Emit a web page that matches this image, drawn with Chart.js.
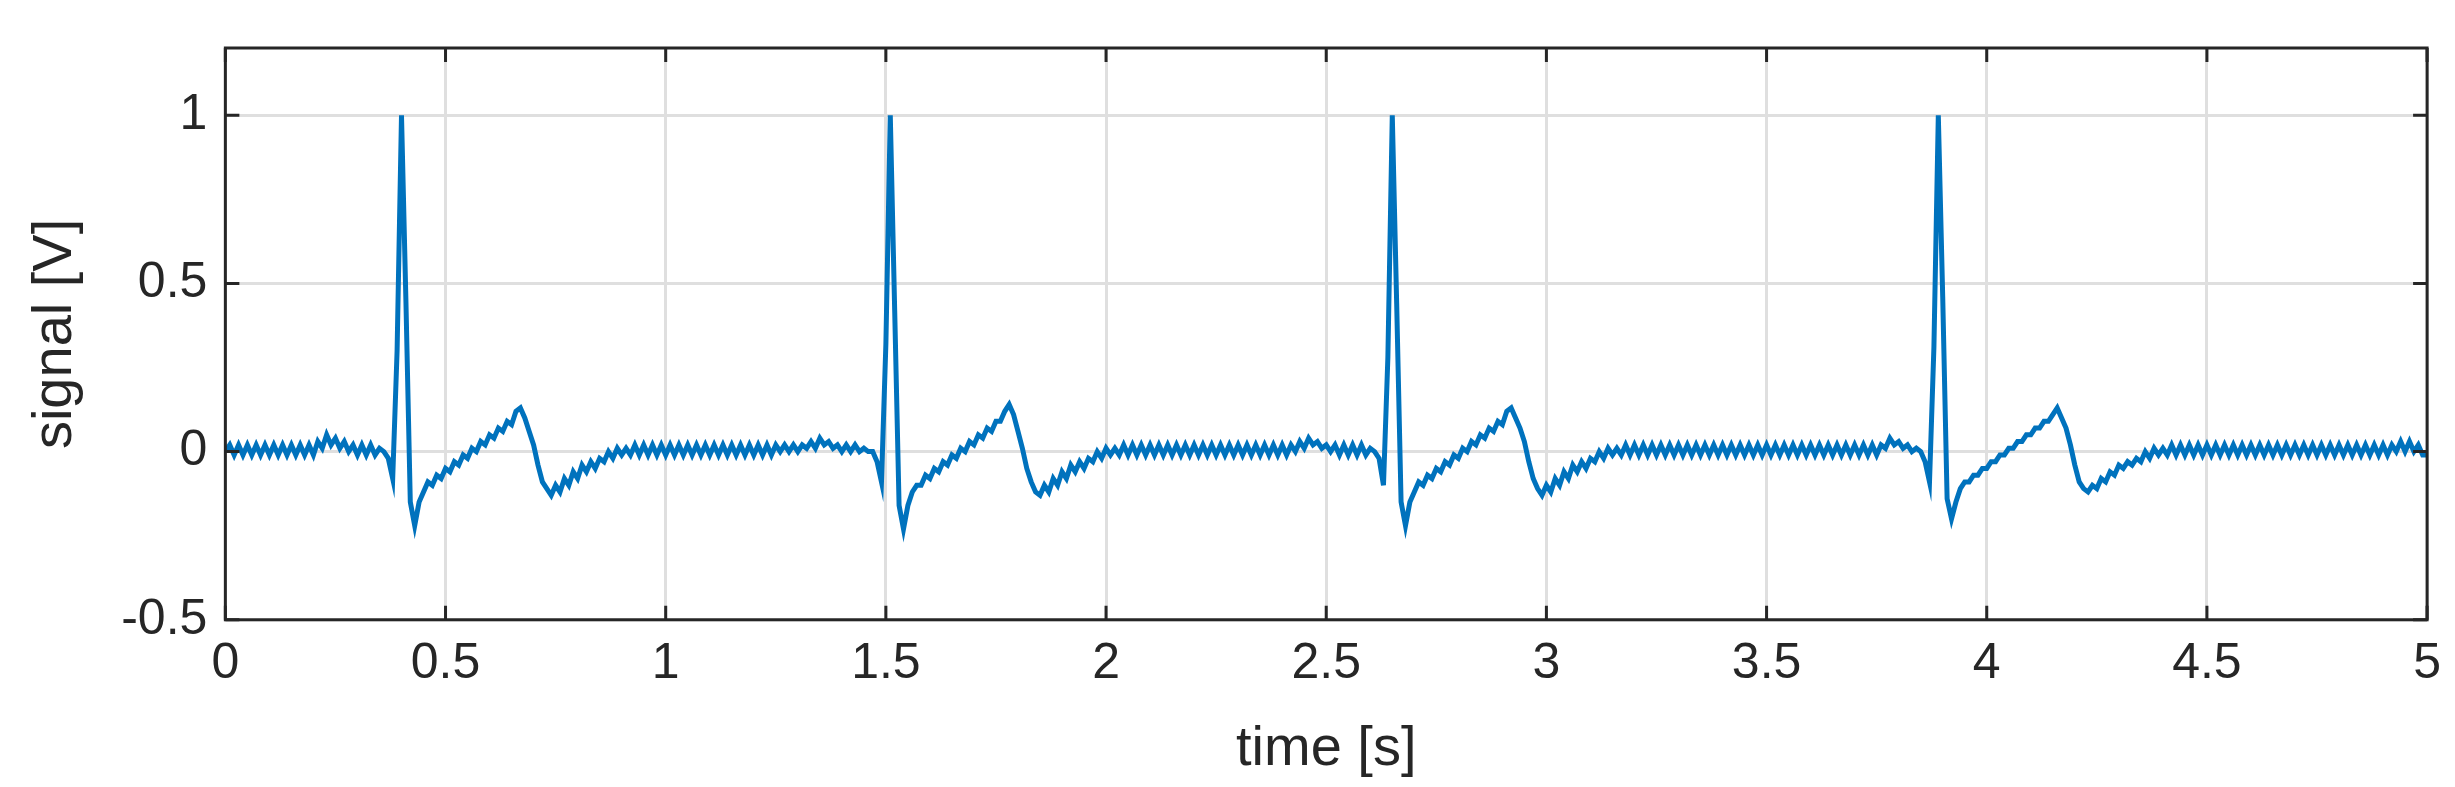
<!DOCTYPE html>
<html><head><meta charset="utf-8">
<script src="https://cdn.jsdelivr.net/npm/chart.js@4"></script>
<style>html,body{margin:0;padding:0;background:#fff;}canvas{display:block;}</style>
</head><body>
<canvas id="c" width="2455" height="787"></canvas>
<script>
const sampleStep = 0.01; // seconds between samples
const signalV = [
 0.00,0.02,-0.01,0.02,-0.01,0.02,-0.01,0.02,-0.01,0.02,
 -0.01,0.02,-0.01,0.02,-0.01,0.02,-0.01,0.02,-0.01,0.02,
 -0.01,0.03,0.01,0.05,0.02,0.04,0.01,0.03,0.00,0.02,
 -0.01,0.02,-0.01,0.02,-0.01,0.01,
 // beat 1
 0.00,-0.02,-0.08,0.30,1.00,0.45,-0.15,-0.22,-0.15,
 -0.12,-0.09,-0.10,-0.07,-0.08,-0.05,-0.06,-0.03,-0.04,-0.01,-0.02,0.01,0.00,0.03,0.02,0.05,0.04,0.07,0.06,0.09,0.08,0.12,0.13,
 0.10,0.06,0.02,-0.04,-0.09,-0.11,-0.13,-0.10,
 -0.12,-0.08,-0.10,-0.06,-0.08,-0.04,-0.06,-0.03,-0.05,-0.02,-0.03,0.00,-0.02,0.01,-0.01,0.01,-0.01,0.02,-0.01,0.02,-0.01,0.02,-0.01,0.02,-0.01,
 0.02,-0.01,0.02,-0.01,0.02,-0.01,0.02,-0.01,0.02,-0.01,
 0.02,-0.01,0.02,-0.01,0.02,-0.01,0.02,-0.01,0.02,-0.01,
 0.02,-0.01,0.02,-0.01,0.02,0.00,0.02,0.00,0.02,0.00,
 0.02,0.01,0.03,0.01,0.04,0.02,0.03,0.01,0.02,0.00,
 0.02,0.00,0.02,0.00,0.01,0.00,
 // beat 2
 0.00,-0.03,-0.09,0.32,1.00,0.42,-0.16,-0.23,-0.16,
 -0.12,-0.10,-0.10,-0.07,-0.08,-0.05,-0.06,-0.03,-0.04,-0.01,-0.02,0.01,0.00,0.03,0.02,0.05,0.04,0.07,0.06,0.09,0.09,0.12,0.14,
 0.11,0.06,0.01,-0.05,-0.09,-0.12,-0.13,-0.10,
 -0.12,-0.08,-0.10,-0.06,-0.08,-0.04,-0.06,-0.03,-0.05,-0.02,-0.03,0.00,-0.02,0.01,-0.01,0.01,-0.01,0.02,-0.01,0.02,-0.01,0.02,-0.01,0.02,-0.01,
 0.02,-0.01,0.02,-0.01,0.02,-0.01,0.02,-0.01,0.02,-0.01,
 0.02,-0.01,0.02,-0.01,0.02,-0.01,0.02,-0.01,0.02,-0.01,
 0.02,-0.01,0.02,-0.01,0.02,-0.01,0.02,-0.01,0.02,-0.01,
 0.02,0.00,0.03,0.01,0.04,0.02,0.03,0.01,0.02,0.00,
 0.02,-0.01,0.02,-0.01,0.02,-0.01,0.02,-0.01,0.01,
 // beat 3
 0.00,-0.02,-0.10,0.28,1.00,0.44,-0.15,-0.22,-0.15,
 -0.12,-0.09,-0.10,-0.07,-0.08,-0.05,-0.06,-0.03,-0.04,-0.01,-0.02,0.01,0.00,0.03,0.02,0.05,0.04,0.07,0.06,0.09,0.08,0.12,0.13,
 0.10,0.07,0.03,-0.03,-0.08,-0.11,-0.13,-0.10,
 -0.12,-0.08,-0.10,-0.06,-0.08,-0.04,-0.06,-0.03,-0.05,-0.02,-0.03,0.00,-0.02,0.01,-0.01,0.01,-0.01,0.02,-0.01,0.02,-0.01,0.02,-0.01,0.02,-0.01,
 0.02,-0.01,0.02,-0.01,0.02,-0.01,0.02,-0.01,0.02,-0.01,
 0.02,-0.01,0.02,-0.01,0.02,-0.01,0.02,-0.01,0.02,-0.01,
 0.02,-0.01,0.02,-0.01,0.02,-0.01,0.02,-0.01,0.02,-0.01,
 0.02,-0.01,0.02,-0.01,0.02,-0.01,0.02,-0.01,0.02,-0.01,
 0.02,-0.01,0.02,-0.01,0.02,-0.01,0.02,-0.01,0.02,-0.01,
 0.02,0.01,0.04,0.02,0.03,0.01,0.02,0.00,0.01,
 // beat 4
 0.00,-0.03,-0.09,0.31,1.00,0.46,-0.14,-0.20,-0.15,
 -0.11,-0.09,-0.09,-0.07,-0.07,-0.05,-0.05,-0.03,-0.03,-0.01,-0.01,0.01,0.01,0.03,0.03,0.05,0.05,0.07,0.07,0.09,0.09,0.11,0.13,
 0.10,0.07,0.02,-0.04,-0.09,-0.11,-0.12,-0.10,
 -0.11,-0.08,-0.09,-0.06,-0.07,-0.04,-0.05,-0.03,-0.04,-0.02,-0.03,0.00,-0.02,0.01,-0.01,0.01,-0.01,0.02,-0.01,0.02,-0.01,0.02,-0.01,0.02,-0.01,
 0.02,-0.01,0.02,-0.01,0.02,-0.01,0.02,-0.01,0.02,-0.01,
 0.02,-0.01,0.02,-0.01,0.02,-0.01,0.02,-0.01,0.02,-0.01,
 0.02,-0.01,0.02,-0.01,0.02,-0.01,0.02,-0.01,0.02,-0.01,
 0.02,-0.01,0.02,-0.01,0.02,-0.01,0.02,-0.01,0.02,-0.01,
 0.02,-0.01,0.02,0.00,0.03,0.00,0.03,0.00,0.02,-0.01,
 -0.01
];
const xTicks = [0,0.5,1,1.5,2,2.5,3,3.5,4,4.5,5];
const yTicks = [-0.5,0,0.5,1];
const xTitle = 'time [s]';
const yTitle = 'signal [V]';

const pts = signalV.map((v,i)=>({x:+(i*sampleStep).toFixed(2), y:v}));
const FONT = '"Liberation Sans", Arial, sans-serif';
const TXT = '#262626';

const frame = {
  id:'frame',
  afterDatasetsDraw(chart){
    const {ctx, chartArea:a, scales} = chart;
    ctx.save();
    ctx.strokeStyle = '#262626';
    ctx.lineWidth = 3;
    ctx.strokeRect(a.left, a.top, a.right-a.left, a.bottom-a.top);
    ctx.beginPath();
    const L = 14;
    xTicks.forEach(t=>{const x=scales.x.getPixelForValue(t);
      ctx.moveTo(x,a.bottom);ctx.lineTo(x,a.bottom-L);ctx.moveTo(x,a.top);ctx.lineTo(x,a.top+L);});
    yTicks.forEach(t=>{const y=scales.y.getPixelForValue(t);
      ctx.moveTo(a.left,y);ctx.lineTo(a.left+L,y);ctx.moveTo(a.right,y);ctx.lineTo(a.right-L,y);});
    ctx.stroke();
    ctx.restore();
  }
};

new Chart(document.getElementById('c'),{
  type:'line',
  data:{datasets:[{data:pts,borderColor:'#0072BD',borderWidth:5,pointRadius:0,tension:0,fill:false}]},
  options:{
    responsive:false,animation:false,
    layout:{padding:{left:18,right:14,top:0,bottom:4}},
    plugins:{legend:{display:false},tooltip:{enabled:false}},
    scales:{
      x:{type:'linear',min:0,max:5,
        afterBuildTicks(s){s.ticks=xTicks.map(v=>({value:v}));},
        ticks:{font:{family:FONT,size:50},color:TXT,padding:14,maxRotation:0,callback:v=>String(v)},
        grid:{color:'#dfdfdf',lineWidth:3,tickLength:0,drawTicks:false},
        border:{display:false},
        title:{display:true,text:xTitle,font:{family:FONT,size:56},color:TXT,padding:{top:8,bottom:0}}},
      y:{type:'linear',min:-0.5,max:1.2,
        afterBuildTicks(s){s.ticks=yTicks.map(v=>({value:v}));},
        ticks:{font:{family:FONT,size:50},color:TXT,padding:18,callback:v=>String(v)},
        grid:{color:'#dfdfdf',lineWidth:3,tickLength:0,drawTicks:false},
        border:{display:false},
        title:{display:true,text:yTitle,font:{family:FONT,size:56},color:TXT,padding:{bottom:14}}}
    }
  },
  plugins:[frame]
});
</script>
</body></html>
